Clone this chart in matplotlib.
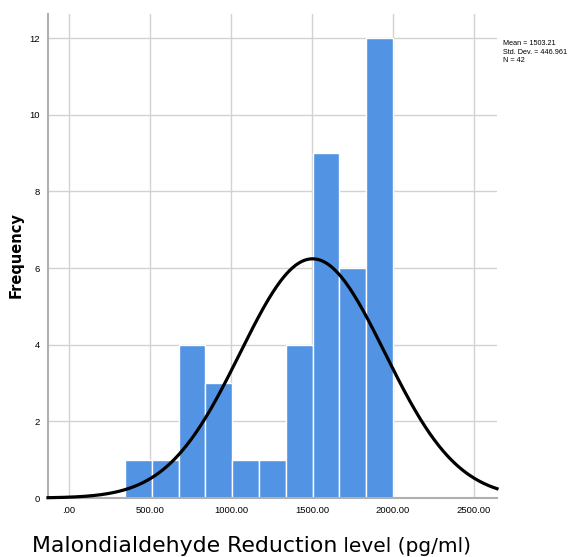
import numpy as np
import matplotlib
matplotlib.use("Agg")
import matplotlib.pyplot as plt

# Data
bin_edges = [345, 510.5, 676, 841.5, 1007, 1172.5, 1338, 1503.5, 1669, 1834.5, 2000]
counts = [1, 1, 4, 3, 1, 1, 4, 9, 6, 12]
mean_val = 1503.21
std_val = 446.961
n_val = 42
xticks = [0, 500, 1000, 1500, 2000, 2500]
xtick_labels = [".00", "500.00", "1000.00", "1500.00", "2000.00", "2500.00"]
yticks = [0, 2, 4, 6, 8, 10, 12]

font = "Liberation Sans"

fig = plt.figure(figsize=(5.77, 5.57), dpi=100)
ax = fig.add_axes([48/577, 59/557, (497-48)/577, (498-14)/557])

widths = np.diff(bin_edges)
ax.bar(bin_edges[:-1], counts, width=widths, align="edge", color="#5293E3",
       edgecolor="white", linewidth=1.0, zorder=2)

xmin, xmax = -130, 2642
xs = np.linspace(xmin, xmax, 600)
bw = 166.5
ys = n_val * bw / (std_val * np.sqrt(2*np.pi)) * np.exp(-0.5*((xs-mean_val)/std_val)**2)
ax.plot(xs, ys, color="black", linewidth=2.3, zorder=3, clip_on=False)

ax.set_xlim(xmin, xmax)
ax.set_ylim(0, 12.63)
ax.set_xticks(xticks)
ax.set_xticklabels(xtick_labels, fontfamily=font, fontsize=6.8)
ax.set_yticks(yticks)
ax.set_yticklabels([str(v) for v in yticks], fontfamily=font, fontsize=6.8)
ax.tick_params(length=0, pad=6)
ax.grid(True, color="#d2d2d2", linewidth=1.0, zorder=0)
ax.set_axisbelow(True)
for s in ["top", "right"]:
    ax.spines[s].set_visible(False)
for s in ["left", "bottom"]:
    ax.spines[s].set_color("#b0b0b0")
    ax.spines[s].set_linewidth(1.5)

fig.text(16/577, 1 - 255/557, "Frequency", rotation=90, ha="center", va="center",
         fontsize=10.5, fontweight="bold", family="DejaVu Sans")

t1 = fig.text(32/577, 1 - 552/557, "Malondialdehyde Reduction", ha="left", va="baseline",
              fontsize=15.8, family="DejaVu Sans")
ax.annotate(" level (pg/ml)", xy=(1, 0), xycoords=t1, va="bottom", ha="left",
            fontsize=14.5, family="DejaVu Sans", annotation_clip=False)

fig.text(503/577, 1 - 40/557, "Mean = 1503.21\nStd. Dev. = 446.961\nN = 42",
         ha="left", va="top", fontsize=5.2, family=font, linespacing=1.3)

fig.savefig("out.png", dpi=100)
